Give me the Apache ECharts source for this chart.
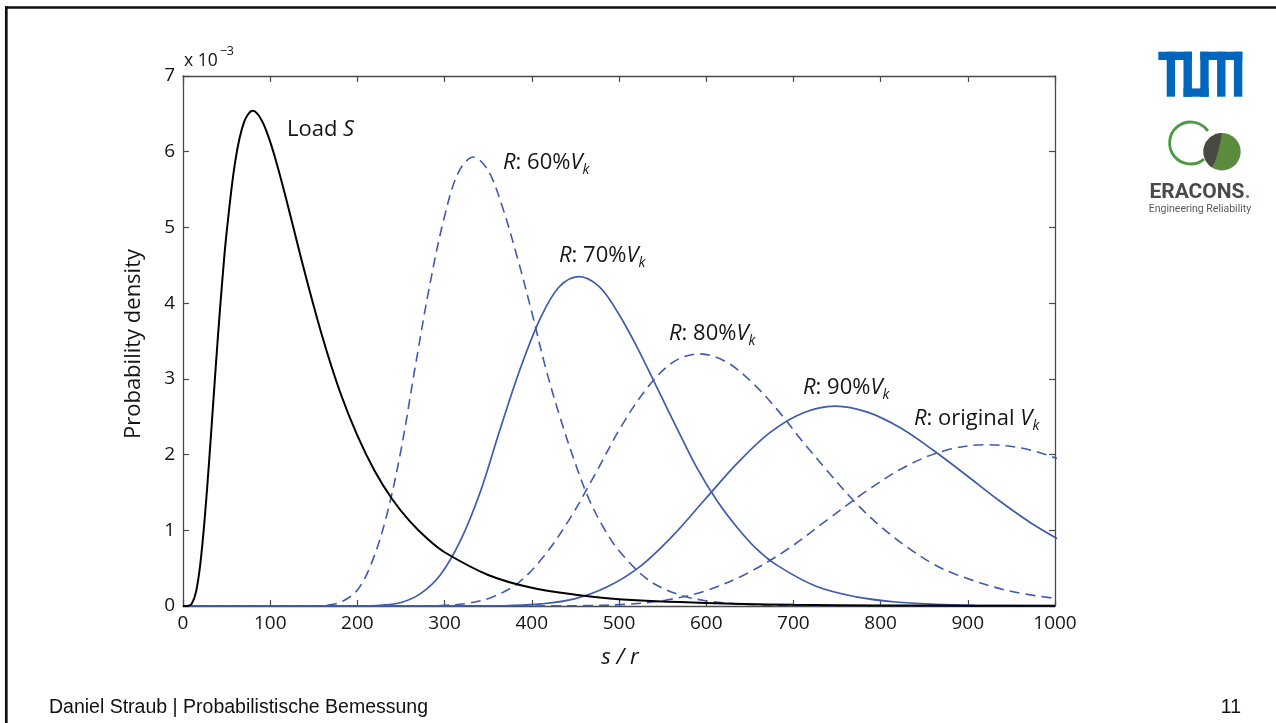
<!DOCTYPE html>
<html>
<head>
<meta charset="utf-8">
<script src="https://cdn.jsdelivr.net/npm/echarts@6/dist/echarts.min.js"></script>
<style>
html,body{margin:0;padding:0;background:#fff;}
#chart{width:1276px;height:723px;}
</style>
</head>
<body>
<div id="chart"></div>
<script>
// ---- data (densities in units of 1e-3) ----
const loadX = [0, 5, 10, 15, 20, 25, 30, 35, 40, 45, 50, 60, 70, 80, 90, 100, 110, 120, 140, 160, 180, 200, 220, 240, 260, 280, 300, 350, 400, 450, 500, 600, 700, 800, 900, 1000];
const loadY = [0, 0, 0.03, 0.19, 0.57, 1.17, 1.92, 2.74, 3.55, 4.29, 4.93, 5.88, 6.39, 6.54, 6.42, 6.13, 5.74, 5.30, 4.39, 3.55, 2.83, 2.25, 1.78, 1.41, 1.12, 0.89, 0.71, 0.41, 0.24, 0.15, 0.09, 0.04, 0.016, 0.008, 0.004, 0.002];

const r60X = [0, 150, 167, 183, 200, 216, 233, 250, 266, 283, 300, 316, 333, 350, 366, 383, 400, 416, 433, 450, 466, 483, 500, 533, 566, 599, 633, 666, 733, 1000];
const r60Y = [0, 0.002, 0.013, 0.062, 0.21, 0.56, 1.17, 2.06, 3.14, 4.24, 5.15, 5.73, 5.93, 5.75, 5.28, 4.62, 3.88, 3.14, 2.47, 1.88, 1.40, 1.02, 0.73, 0.35, 0.16, 0.07, 0.03, 0.013, 0.002, 0];

const r70X = [0, 204, 227, 250, 272, 295, 318, 341, 363, 386, 409, 431, 454, 477, 499, 522, 545, 568, 590, 613, 636, 658, 681, 726, 772, 817, 863, 908, 1000];
const r70Y = [0, 0.001, 0.01, 0.046, 0.16, 0.41, 0.86, 1.51, 2.31, 3.11, 3.78, 4.21, 4.35, 4.22, 3.87, 3.39, 2.85, 2.31, 1.81, 1.38, 1.03, 0.75, 0.54, 0.26, 0.12, 0.053, 0.023, 0.01, 0.002];

const r80X = [0, 266, 296, 326, 355, 385, 414, 444, 474, 503, 533, 562, 592, 622, 651, 681, 710, 740, 770, 799, 829, 858, 888, 947, 1006];
const r80Y = [0, 0.001, 0.007, 0.035, 0.12, 0.31, 0.66, 1.16, 1.77, 2.38, 2.89, 3.22, 3.33, 3.23, 2.97, 2.60, 2.18, 1.77, 1.38, 1.06, 0.79, 0.57, 0.41, 0.20, 0.092];

const r90X = [0, 337, 374, 411, 449, 486, 524, 561, 598, 636, 673, 711, 748, 785, 823, 860, 898, 935, 972, 1010];
const r90Y = [0, 0.001, 0.006, 0.028, 0.095, 0.25, 0.52, 0.92, 1.40, 1.89, 2.29, 2.55, 2.64, 2.56, 2.35, 2.06, 1.73, 1.40, 1.10, 0.84];

const origX = [0, 415, 461, 507, 553, 599, 645, 692, 738, 784, 830, 876, 922, 968, 1014];
const origY = [0, 0.001, 0.005, 0.022, 0.076, 0.20, 0.42, 0.74, 1.13, 1.52, 1.85, 2.06, 2.13, 2.07, 1.90];

const xTicks = [0, 1000, 100];   // min, max, interval
const yTicks = [0, 7, 1];

// ---- styling ----
const FONT = 'Open Sans';
const BLUE = '#3f5bab';
const AX = '#4a4a4a';
const TXT = '#151515';

function pairs(xs, ys) { return xs.map((x, i) => [x, ys[i]]); }

function lineSeries(xs, ys, color, dashed, width) {
  return {
    type: 'line', data: pairs(xs, ys), symbol: 'none', smooth: 0.35,
    lineStyle: { color: color, width: width, type: dashed ? [10, 6] : 'solid' },
    xAxisIndex: 0, yAxisIndex: 0, silent: true
  };
}

function axisCommon(pos, showLabel, min, max, interval) {
  return {
    type: 'value', position: pos, min: min, max: max, interval: interval,
    axisLine: { show: true, onZero: false, lineStyle: { color: AX, width: 1.3 } },
    axisTick: { show: true, inside: true, length: 6, lineStyle: { color: AX, width: 1.2 } },
    axisLabel: { show: showLabel, fontSize: 19, fontFamily: FONT, color: TXT, margin: 8,
      formatter: function (v) { return String(v); } },
    splitLine: { show: false }
  };
}

const richBase = {
  n: { fontFamily: FONT, fontSize: 22, fill: TXT },
  i: { fontFamily: FONT, fontSize: 22, fontStyle: 'italic', fill: TXT },
  s: { fontFamily: FONT, fontSize: 14, fontStyle: 'italic', fill: TXT, padding: [15, 0, 0, 0] }
};

function rLabel(body, x, y) {
  return {
    type: 'text', x: x, y: y, z: 10,
    style: { text: '{i|R}{n|: ' + body + '}{i|V}{s|k}', rich: richBase, align: 'left', verticalAlign: 'middle' }
  };
}

// TUM logo geometry
const tc = 8.4, tx0 = 1158.3, ty0 = 51.7, tH = 45, tt = 8.3;
const TUMBLUE = '#0065bd';
function trect(x, y, w, h) { return { type: 'rect', shape: { x: x, y: y, width: w, height: h }, style: { fill: TUMBLUE } }; }

const graphic = [
  // slide border
  { type: 'line', shape: { x1: 6.3, y1: 6.2, x2: 6.3, y2: 723 }, style: { stroke: '#111', lineWidth: 2.7 } },
  { type: 'line', shape: { x1: 5, y1: 7.5, x2: 1276, y2: 7.5 }, style: { stroke: '#111', lineWidth: 2.7 } },
  // TUM logo
  trect(tx0, ty0, 4 * tc, tt),
  trect(tx0 + tc, ty0, tc, tH),
  trect(tx0 + 3 * tc, ty0, tc, tH),
  trect(tx0 + 3 * tc, ty0 + tH - tt, 3 * tc, tt),
  trect(tx0 + 5 * tc, ty0, 5 * tc, tt),
  trect(tx0 + 5 * tc, ty0, tc, tH),
  trect(tx0 + 7 * tc, ty0, tc, tH),
  trect(tx0 + 9 * tc, ty0, tc, tH),
  // ERACONS logo
  { type: 'arc', shape: { cx: 1190.6, cy: 143, r: 21, startAngle: 50 * Math.PI / 180, endAngle: 325 * Math.PI / 180, clockwise: true },
    style: { stroke: '#4c9a44', lineWidth: 2.8, fill: null } },
  { type: 'circle', shape: { cx: 1222, cy: 151.7, r: 18.7 }, style: { fill: '#5b8c3e' } },
  { type: 'polygon', shape: { points: [[1222, 133], [1215.6, 134.1], [1210.0, 137.4], [1205.8, 142.35], [1203.6, 148.45], [1203.6, 154.95], [1205.8, 161.05], [1209.5, 165.6], [1212.1, 167.6], [1215.6, 160], [1218.3, 151.3], [1220.4, 142]] },
    style: { fill: '#4a4843' } },
  { type: 'text', x: 1200, y: 192.5, style: { text: '{a|ERACONS}{g|.}', align: 'center', verticalAlign: 'middle',
    rich: { a: { fontFamily: 'Roboto', fontWeight: 'bold', fontSize: 21, fill: '#4a4a4a' }, g: { fontFamily: 'Roboto', fontWeight: 'bold', fontSize: 21, fill: '#4c9a44' } } } },
  { type: 'text', x: 1200, y: 209.5, style: { text: 'Engineering Reliability', align: 'center', verticalAlign: 'middle', fontFamily: 'Roboto', fontSize: 10.5, fill: '#5a5a5a' } },
  // axis captions
  { type: 'text', x: 184, y: 61, style: { text: '{n|x 10}{s|\u22123}', align: 'left', verticalAlign: 'middle',
    rich: { n: { fontFamily: FONT, fontSize: 17.5, fill: TXT }, s: { fontFamily: FONT, fontSize: 12.5, fill: TXT, padding: [0, 0, 20, 2] } } } },
  { type: 'text', x: 134, y: 344, rotation: Math.PI / 2, style: { text: 'Probability density', align: 'center', verticalAlign: 'middle', fontFamily: FONT, fontSize: 22, fill: TXT } },
  { type: 'text', x: 620, y: 658, style: { text: 's / r', align: 'center', verticalAlign: 'middle', fontFamily: FONT, fontSize: 22, fontStyle: 'italic', fill: TXT } },
  // curve annotations
  { type: 'text', x: 287, y: 130, z: 10, style: { text: '{n|Load }{i|S}', rich: richBase, align: 'left', verticalAlign: 'middle' } },
  rLabel('60%', 503, 163),
  rLabel('70%', 559, 256),
  rLabel('80%', 669, 334),
  rLabel('90%', 803, 388),
  rLabel('original ', 914, 419),
  // footer
  { type: 'text', x: 49, y: 708, style: { text: 'Daniel Straub | Probabilistische Bemessung', align: 'left', verticalAlign: 'middle', fontFamily: 'Liberation Sans', fontSize: 19.5, fill: '#111' } },
  { type: 'text', x: 1241, y: 708, style: { text: '11', align: 'right', verticalAlign: 'middle', fontFamily: 'Liberation Sans', fontSize: 19.5, fill: '#111' } }
];

const chart = echarts.init(document.getElementById('chart'), null, { renderer: 'canvas' });
chart.setOption({
  animation: false,
  backgroundColor: '#ffffff',
  grid: { left: 183, right: 221, top: 76, bottom: 117, containLabel: false },
  xAxis: [
    axisCommon('bottom', true, xTicks[0], xTicks[1], xTicks[2]),
    axisCommon('top', false, xTicks[0], xTicks[1], xTicks[2])
  ],
  yAxis: [
    axisCommon('left', true, yTicks[0], yTicks[1], yTicks[2]),
    axisCommon('right', false, yTicks[0], yTicks[1], yTicks[2])
  ],
  series: [
    lineSeries(r60X, r60Y, BLUE, true, 1.6),
    lineSeries(r70X, r70Y, BLUE, false, 1.7),
    lineSeries(r80X, r80Y, BLUE, true, 1.6),
    lineSeries(r90X, r90Y, BLUE, false, 1.7),
    lineSeries(origX, origY, BLUE, true, 1.6),
    lineSeries(loadX, loadY, '#000000', false, 2)
  ],
  graphic: graphic
});
</script>
</body>
</html>
